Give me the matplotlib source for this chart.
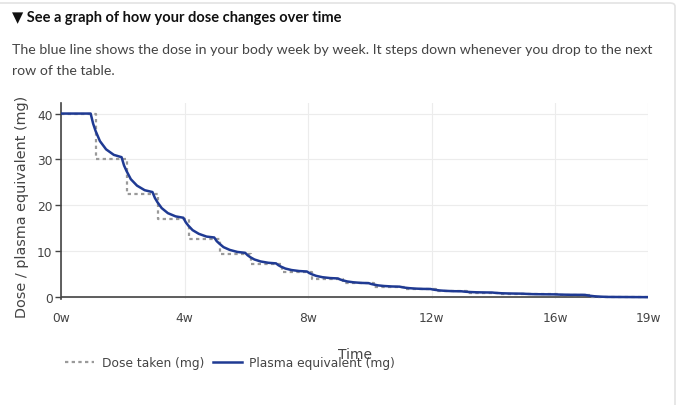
import numpy as np
import matplotlib.pyplot as plt
from matplotlib.patches import FancyBboxPatch

# dose taken (mg) per row of the table, step weeks where each row starts
dose_weeks = [0, 1.14, 2.14, 3.14, 4.14, 5.14, 6.14, 7.14, 8.14, 9.14,
              10.14, 11.14, 12.14, 13.14, 14.14, 15.14, 16.14, 17.14, 19]
dose_mg = [40, 30, 22.5, 17, 12.75, 9.5, 7.25, 5.5, 4, 3,
           2.25, 1.75, 1.25, 1.0, 0.75, 0.6, 0.5, 0, 0]

# plasma equivalent read off the curve: one row per step, sampled at
# week + offset
plasma_offsets = [-0.04, 0.04, 0.12, 0.26, 0.46, 0.71]
plasma_mg = [
    [40.0, 37.8, 36.2, 34.0, 32.2, 31.0],
    [30.5, 28.7, 27.5, 25.7, 24.3, 23.3],
    [22.9, 21.6, 20.7, 19.4, 18.3, 17.6],
    [17.3, 16.3, 15.6, 14.6, 13.8, 13.2],
    [13.0, 12.2, 11.7, 10.9, 10.3, 9.85],
    [9.66, 9.13, 8.74, 8.21, 7.78, 7.49],
    [7.36, 6.95, 6.65, 6.24, 5.91, 5.69],
    [5.59, 5.24, 4.99, 4.64, 4.35, 4.16],
    [4.08, 3.84, 3.67, 3.43, 3.24, 3.11],
    [3.05, 2.87, 2.75, 2.57, 2.43, 2.33],
    [2.29, 2.17, 2.08, 1.97, 1.87, 1.80],
    [1.78, 1.66, 1.58, 1.46, 1.37, 1.30],
    [1.28, 1.22, 1.17, 1.11, 1.06, 1.03],
    [1.01, 0.95, 0.91, 0.85, 0.81, 0.78],
    [0.76, 0.72, 0.70, 0.66, 0.64, 0.62],
    [0.61, 0.59, 0.57, 0.55, 0.52, 0.51],
    [0.50, 0.39, 0.31, 0.20, 0.11, 0.05],
]
plasma_start = [0, 40.0]
plasma_end = [19, 0.0]

xticks = [0, 4, 8, 12, 16, 19]
xtick_labels = ['0w', '4w', '8w', '12w', '16w', '19w']
yticks = [0, 10, 20, 30, 40]

pt = [plasma_start[0]]
pv = [plasma_start[1]]
for k, row in enumerate(plasma_mg):
    for off, v in zip(plasma_offsets, row):
        pt.append(k + 1 + off)
        pv.append(v)
pt.append(plasma_end[0])
pv.append(plasma_end[1])

W, H = 680, 406
fig = plt.figure(figsize=(W / 100, H / 100), dpi=100)
fig.patch.set_facecolor('white')

# card border
card = FancyBboxPatch((-10 / W, -10 / H), 685 / W, 412 / H,
                      boxstyle='round,pad=0,rounding_size=0.008',
                      transform=fig.transFigure, facecolor='white',
                      edgecolor='#e3e3e3', lw=1.2, zorder=-10)
fig.patches.append(card)

txt_font = ['Lato', 'DejaVu Sans']
fig.text(12 / W, 1 - 18 / H, '▼ See a graph of how your dose changes over time',
         family=txt_font, fontsize=10.5, fontweight='bold', color='#111111',
         va='center', ha='left')
fig.text(12 / W, 1 - 50 / H,
         'The blue line shows the dose in your body week by week. It steps down whenever you drop to the next',
         family=txt_font, fontsize=10.15, color='#444444', va='center', ha='left')
fig.text(12 / W, 1 - 71 / H, 'row of the table.',
         family=txt_font, fontsize=10.15, color='#444444', va='center', ha='left')

ax = fig.add_axes([61 / W, (H - 300) / H, 587 / W, 196 / H])
ax.set_facecolor('white')
ax.plot(dose_weeks, dose_mg, drawstyle='steps-post', color='#9a9a9a',
        lw=1.6, linestyle=(0, (1.5, 1.5)), label='Dose taken (mg)', zorder=2)
ax.plot(pt, pv, color='#1f3a93', lw=1.8, label='Plasma equivalent (mg)', zorder=3)

ax.set_xlim(0, 19)
ax.set_ylim(-0.4, 42.3)
ax.set_xticks(xticks)
ax.set_xticklabels(xtick_labels)
ax.set_yticks(yticks)
ax.grid(True, color='#ececec', lw=0.8)
ax.set_axisbelow(True)
ax.axhline(0, color='#444444', lw=1.2, zorder=1)
for s in ['top', 'right', 'bottom']:
    ax.spines[s].set_visible(False)
ax.spines['left'].set_color('#444444')
ax.spines['left'].set_linewidth(1.2)
ax.tick_params(axis='x', length=0, pad=9, labelsize=8.8, labelcolor='#444444')
ax.tick_params(axis='y', length=4, width=1, color='#444444', pad=2,
               labelsize=8.8, labelcolor='#444444')

fig.text(22 / W, 1 - 207 / H, 'Dose / plasma equivalent (mg)', rotation=90,
         fontsize=10.4, color='#444444', va='center', ha='center')
fig.text(355 / W, 1 - 355 / H, 'Time', fontsize=10, color='#444444',
         va='center', ha='center')

leg = fig.legend(loc='center left', bbox_to_anchor=(54 / W, 1 - 364 / H),
                 ncol=2, frameon=False, fontsize=8.8, handlelength=2.4,
                 handletextpad=0.6, columnspacing=0.7, labelcolor='#444444')

fig.savefig('out.png', dpi=100)
